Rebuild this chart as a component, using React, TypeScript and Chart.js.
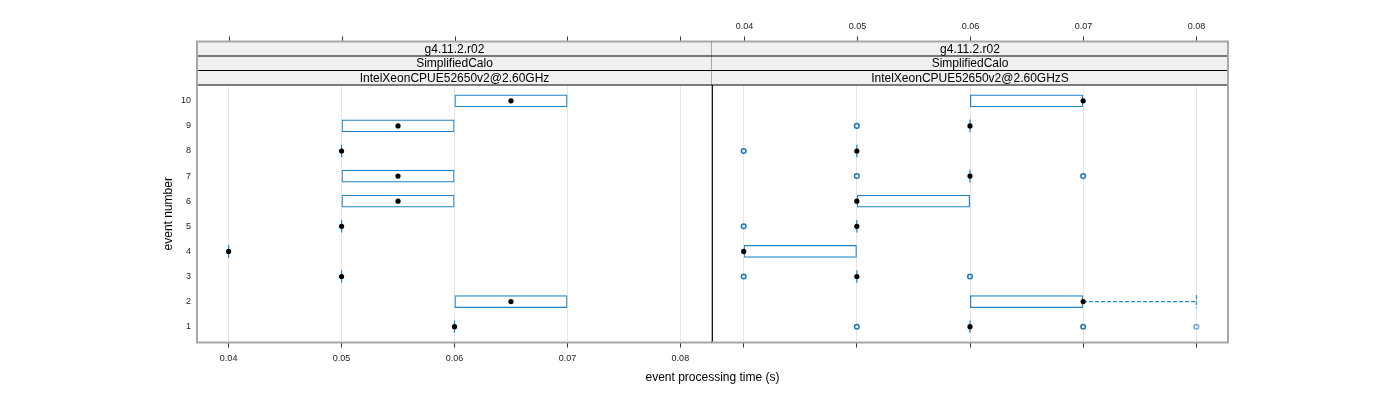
import React, { useEffect, useRef } from "react";
import { Chart, registerables } from "chart.js";

Chart.register(...registerables);

const FONT = "'Liberation Sans', Arial, Helvetica, sans-serif";
Chart.defaults.font.family = FONT;

// ---------- data ----------
const events = [1, 2, 3, 4, 5, 6, 7, 8, 9, 10];
const xTickValues = [0.04, 0.05, 0.06, 0.07, 0.08];
const xAxisMin = 0.0372;
const xAxisMax = 0.0828;
const yAxisMin = 0.37;
const yAxisMax = 10.63;

const stripVersion = "g4.11.2.r02";
const stripModel = "SimplifiedCalo";
const leftHost = "IntelXeonCPUE52650v2@2.60GHz";
const rightHost = "IntelXeonCPUE52650v2@2.60GHzS";

// left panel (per event 1..10)
const leftLower = [0.06, 0.06, 0.05, 0.04, 0.05, 0.05, 0.05, 0.05, 0.05, 0.06];
const leftMedian = [0.06, 0.065, 0.05, 0.04, 0.05, 0.055, 0.055, 0.05, 0.055, 0.065];
const leftUpper = [0.06, 0.07, 0.05, 0.04, 0.05, 0.06, 0.06, 0.05, 0.06, 0.07];
const leftWhiskerLow = [0.06, 0.06, 0.05, 0.04, 0.05, 0.05, 0.05, 0.05, 0.05, 0.06];
const leftWhiskerHigh = [0.06, 0.07, 0.05, 0.04, 0.05, 0.06, 0.06, 0.05, 0.06, 0.07];
const leftOutlierEvent: number[] = [];
const leftOutlierValue: number[] = [];
const leftOutlierCount: number[] = [];

// right panel (per event 1..10)
const rightLower = [0.06, 0.06, 0.05, 0.04, 0.05, 0.05, 0.06, 0.05, 0.06, 0.06];
const rightMedian = [0.06, 0.07, 0.05, 0.04, 0.05, 0.05, 0.06, 0.05, 0.06, 0.07];
const rightUpper = [0.06, 0.07, 0.05, 0.05, 0.05, 0.06, 0.06, 0.05, 0.06, 0.07];
const rightWhiskerLow = [0.06, 0.06, 0.05, 0.04, 0.05, 0.05, 0.06, 0.05, 0.06, 0.06];
const rightWhiskerHigh = [0.06, 0.08, 0.05, 0.05, 0.05, 0.06, 0.06, 0.05, 0.06, 0.07];
const rightOutlierEvent = [1, 1, 1, 3, 3, 5, 7, 7, 8, 9];
const rightOutlierValue = [0.05, 0.07, 0.08, 0.04, 0.06, 0.04, 0.05, 0.07, 0.04, 0.05];
const rightOutlierCount = [3, 3, 1, 2, 2, 2, 2, 2, 2, 2];

// ---------- styles ----------
const BOX_COLOR = "#1f84cc";
const WHISKER_COLOR = "#1f8ad6";
const OUTLIER_DARK = "#1a76ba";
const OUTLIER_LIGHT = "#6aaedd";
const GRID_COLOR = "#e6e6e6";
const FRAME_GRAY = "#a8a8a8";
const STRIP_BG = "#f0f0f0";
const BOX_THICK = 12.6;
const STRIP_H = 14.5;

type Panel = {
  lower: number[];
  median: number[];
  upper: number[];
  wLow: number[];
  wHigh: number[];
  oEv: number[];
  oVal: number[];
  oCnt: number[];
  host: string;
  isLeft: boolean;
};

const panels: Panel[] = [
  {
    lower: leftLower, median: leftMedian, upper: leftUpper,
    wLow: leftWhiskerLow, wHigh: leftWhiskerHigh,
    oEv: leftOutlierEvent, oVal: leftOutlierValue, oCnt: leftOutlierCount,
    host: leftHost, isLeft: true,
  },
  {
    lower: rightLower, median: rightMedian, upper: rightUpper,
    wLow: rightWhiskerLow, wHigh: rightWhiskerHigh,
    oEv: rightOutlierEvent, oVal: rightOutlierValue, oCnt: rightOutlierCount,
    host: rightHost, isLeft: false,
  },
];

let capImage: HTMLCanvasElement | null = null;
function getCapImage() {
  if (capImage) return capImage;
  const h = 13;
  const c = document.createElement("canvas");
  c.width = 3;
  c.height = h;
  const g = c.getContext("2d")!;
  g.strokeStyle = WHISKER_COLOR;
  g.lineWidth = 1.2;
  g.setLineDash([4, 2]);
  g.beginPath();
  g.moveTo(1.5, 0);
  g.lineTo(1.5, h);
  g.stroke();
  capImage = c;
  return c;
}

function buildDatasets(p: Panel) {
  const ds: any[] = [];
  // medians on top
  ds.push({
    type: "scatter",
    order: 0,
    data: events.map((e, i) => ({ x: p.median[i], y: e })),
    pointRadius: 2.6,
    pointBorderWidth: 0,
    pointBackgroundColor: "#000",
    pointHoverRadius: 2.6,
  });
  // outliers
  ds.push({
    type: "scatter",
    order: 1,
    data: p.oEv.map((e, i) => ({ x: p.oVal[i], y: e, count: p.oCnt[i] })),
    pointRadius: 2.3,
    pointBorderWidth: 1.5,
    pointBackgroundColor: "rgba(255,255,255,0)",
    pointBorderColor: (ctx: any) =>
      ctx.raw && ctx.raw.count > 1 ? OUTLIER_DARK : OUTLIER_LIGHT,
  });
  // collapsed boxes (lower hinge == upper hinge)
  ds.push({
    type: "scatter",
    order: 2,
    data: events
      .map((e, i) => ({ x: p.lower[i], y: e, c: p.lower[i] === p.upper[i] }))
      .filter((d) => d.c)
      .map((d) => ({ x: d.x, y: d.y })),
    pointStyle: "line",
    rotation: 90,
    pointRadius: BOX_THICK / 2,
    pointBorderWidth: 1.2,
    pointBorderColor: BOX_COLOR,
  });
  // whiskers
  events.forEach((e, i) => {
    const segs: [number, number][] = [];
    if (p.wHigh[i] > p.upper[i]) segs.push([p.upper[i], p.wHigh[i]]);
    if (p.wLow[i] < p.lower[i]) segs.push([p.lower[i], p.wLow[i]]);
    segs.forEach(([from, to]) => {
      ds.push({
        type: "line",
        order: 3,
        data: [
          { x: from, y: e },
          { x: to, y: e },
        ],
        borderColor: WHISKER_COLOR,
        borderWidth: 1.3,
        borderDash: [4, 2],
        fill: false,
        pointStyle: getCapImage(),
        pointRadius: [0, 6],
        pointHoverRadius: [0, 6],
      });
    });
  });
  // boxes
  ds.push({
    type: "bar",
    order: 4,
    indexAxis: "y",
    data: events
      .map((e, i) => ({ y: e, x: [p.lower[i], p.upper[i]] }))
      .filter((d) => d.x[0] !== d.x[1]),
    barThickness: BOX_THICK,
    borderSkipped: false,
    borderWidth: 1.2,
    borderColor: BOX_COLOR,
    backgroundColor: "rgba(255,255,255,0)",
    inflateAmount: 0,
  });
  return ds;
}

const latticePlugin = {
  id: "latticeFrame",
  afterDraw(chart: any, _args: any, opts: any) {
    const { ctx } = chart;
    const { left, right, top, bottom } = chart.chartArea;
    const xs = chart.scales.x;
    const stripTop = top - 3 * STRIP_H;
    const texts = [stripVersion, stripModel, opts.host];
    ctx.save();
    // strips
    for (let i = 0; i < 3; i++) {
      const y0 = stripTop + i * STRIP_H;
      ctx.fillStyle = STRIP_BG;
      ctx.fillRect(left, y0, right - left, STRIP_H);
      ctx.fillStyle = "#000";
      ctx.font = `12px ${FONT}`;
      ctx.textAlign = "center";
      ctx.textBaseline = "middle";
      ctx.fillText(texts[i], (left + right) / 2, y0 + STRIP_H / 2 + 0.5);
    }
    ctx.strokeStyle = "#000";
    ctx.lineWidth = 1;
    for (let i = 1; i <= 3; i++) {
      const y = stripTop + i * STRIP_H;
      ctx.beginPath();
      ctx.moveTo(left, y);
      ctx.lineTo(right, y);
      ctx.stroke();
    }
    // top ticks
    ctx.strokeStyle = "#333";
    ctx.lineWidth = 1;
    xs.ticks.forEach((t: any) => {
      const px = Math.round(xs.getPixelForValue(t.value)) + 0.5;
      ctx.beginPath();
      ctx.moveTo(px, stripTop - 5);
      ctx.lineTo(px, stripTop);
      ctx.stroke();
      if (opts.topLabels) {
        ctx.fillStyle = "#222";
        ctx.font = `9px ${FONT}`;
        ctx.textAlign = "center";
        ctx.textBaseline = "middle";
        ctx.fillText(Number(t.value).toFixed(2), px, stripTop - 15);
      }
    });
    // frame
    ctx.strokeStyle = FRAME_GRAY;
    ctx.lineWidth = 2;
    ctx.beginPath();
    ctx.moveTo(left, stripTop);
    ctx.lineTo(right, stripTop);
    ctx.moveTo(left, bottom);
    ctx.lineTo(right, bottom);
    if (opts.isLeft) {
      ctx.moveTo(left, stripTop - 1);
      ctx.lineTo(left, bottom + 1);
    } else {
      ctx.moveTo(right, stripTop - 1);
      ctx.lineTo(right, bottom + 1);
    }
    ctx.stroke();
    if (opts.isLeft) {
      // divider between panels
      ctx.strokeStyle = "#000";
      ctx.lineWidth = 1.2;
      ctx.beginPath();
      ctx.moveTo(right + 0.3, stripTop);
      ctx.lineTo(right + 0.3, bottom);
      ctx.stroke();
      // common x title
      ctx.fillStyle = "#000";
      ctx.font = `12px ${FONT}`;
      ctx.textAlign = "center";
      ctx.textBaseline = "middle";
      ctx.fillText("event processing time (s)", right + 0.5, 377.5);
    }
    ctx.restore();
  },
};

function buildConfig(p: Panel): any {
  return {
    type: "scatter",
    data: { datasets: buildDatasets(p) },
    plugins: [latticePlugin],
    options: {
      responsive: false,
      animation: false,
      events: [],
      layout: {
        padding: p.isLeft
          ? { left: 156, right: 688, top: 85, bottom: 0 }
          : { left: 712, right: 172, top: 85, bottom: 0 },
      },
      plugins: {
        legend: { display: false },
        tooltip: { enabled: false },
        latticeFrame: { host: p.host, isLeft: p.isLeft, topLabels: !p.isLeft },
      },
      scales: {
        x: {
          type: "linear",
          position: "bottom",
          min: xAxisMin,
          max: xAxisMax,
          offset: false,
          afterBuildTicks: (s: any) => {
            s.ticks = xTickValues.map((v) => ({ value: v }));
          },
          afterFit: (s: any) => {
            s.height = 57.5;
          },
          grid: {
            color: GRID_COLOR,
            tickColor: "#333",
            tickLength: 5,
            offset: false,
            lineWidth: 1,
          },
          border: { display: false },
          ticks: {
            display: p.isLeft,
            font: { size: 9, family: FONT },
            color: "#222",
            padding: 6,
            maxRotation: 0,
            autoSkip: false,
            callback: (v: any) => Number(v).toFixed(2),
          },
        },
        y: {
          type: "linear",
          display: p.isLeft,
          min: yAxisMin,
          max: yAxisMax,
          offset: false,
          afterBuildTicks: (s: any) => {
            s.ticks = events.map((v) => ({ value: v }));
          },
          afterFit: (s: any) => {
            s.width = p.isLeft ? 41 : 0;
          },
          grid: { display: false, drawTicks: false },
          border: { display: false },
          ticks: {
            font: { size: 9, family: FONT },
            color: "#222",
            padding: 6,
            autoSkip: false,
            callback: (v: any) => String(v),
          },
          title: {
            display: p.isLeft,
            text: "event number",
            font: { size: 12, family: FONT },
            color: "#000",
            padding: { top: 5, bottom: 4 },
          },
        },
      },
    },
  };
}

function PanelCanvas({ panel }: { panel: Panel }) {
  const ref = useRef<HTMLCanvasElement>(null);
  useEffect(() => {
    if (!ref.current) return;
    const chart = new Chart(ref.current, buildConfig(panel));
    return () => chart.destroy();
  }, [panel]);
  return (
    <canvas
      ref={ref}
      width={1400}
      height={400}
      style={{ position: "absolute", left: 0, top: 0, width: 1400, height: 400 }}
    />
  );
}

export default function App() {
  return (
    <div
      style={{
        position: "absolute",
        left: 0,
        top: 0,
        width: 1400,
        height: 400,
        background: "#fff",
        overflow: "hidden",
      }}
    >
      {panels.map((p, i) => (
        <PanelCanvas key={i} panel={p} />
      ))}
    </div>
  );
}
